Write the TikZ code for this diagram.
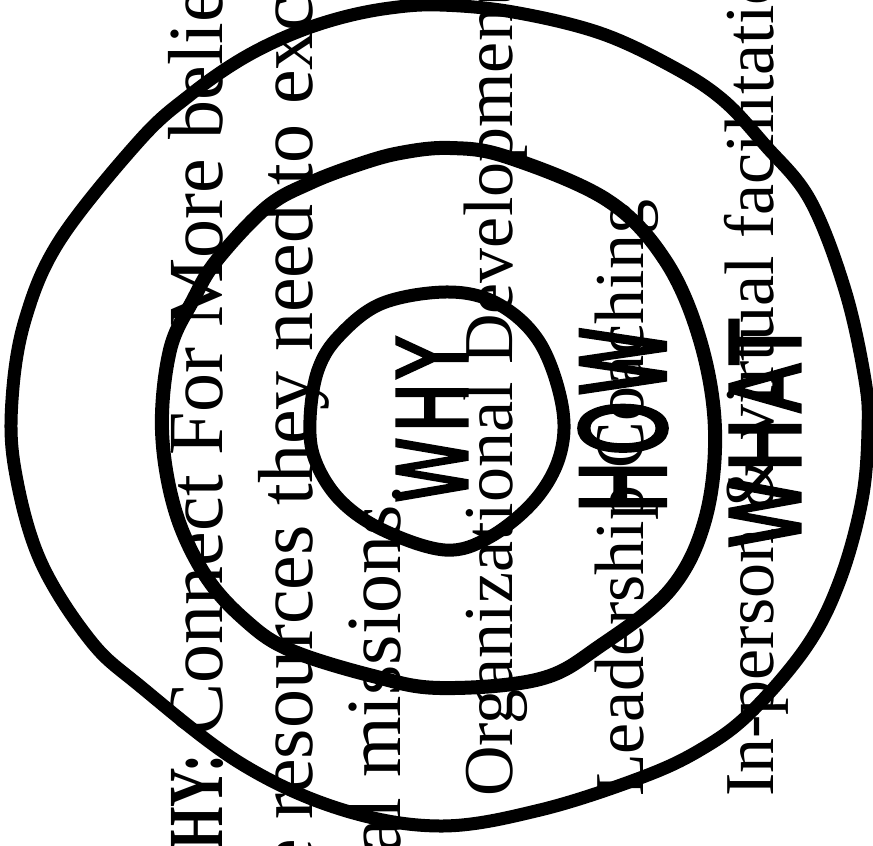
\documentclass[tikz,border=0pt]{standalone}
\usepackage{fontspec}
\usepackage{graphicx}
\setmainfont{Liberation Serif}
\newfontfamily\handfont[FakeBold=3.5,LetterSpace=8]{DejaVu Sans}
\tikzset{
  ring/.style={line width=13pt, line cap=round, line join=round},
  bigline/.style={rotate=90, anchor=base west, inner sep=0pt, font=\fontsize{78}{90}\selectfont},
  smallline/.style={rotate=90, anchor=base west, inner sep=0pt, font=\fontsize{70}{84}\selectfont},
  hand/.style={rotate=90, anchor=center, inner sep=0pt}
}
\begin{document}
\begin{tikzpicture}[x=1pt,y=-1pt]
\useasboundingbox (0,0) rectangle (873,846);
\fill[white] (0,0) rectangle (873,846);
\clip (0,0) rectangle (873,846);
% outer ring
\draw[ring] plot[smooth cycle, tension=0.6] coordinates {
 (12,400) (25,320) (60,240) (140,140) (190,95) (240,60) (290,35) (340,18) (390,8) (440,5)
 (513,12) (600,33) (673,67) (723,100) (765,145) (810,200) (845,290) (865,380) (868,430)
 (862,500) (840,580) (807,646) (750,713) (700,750) (640,778) (540,810) (440,826)
 (340,809) (240,763) (140,686) (90,640) (40,560) (15,470)};
% middle ring
\draw[ring, line width=14pt] plot[smooth cycle, tension=0.6] coordinates {
 (450,148) (507,157) (607,200) (665,260) (700,340) (715,430) (705,520) (670,590)
 (600,646) (540,679) (440,688) (373,676) (290,650) (245,620) (205,575) (175,510)
 (162,430) (170,350) (193,300) (217,260) (267,207) (310,183) (357,165) (400,153)};
% inner ring
\draw[ring] plot[smooth cycle, tension=0.6] coordinates {
 (310,420) (318,370) (340,335) (383,303) (450,292) (500,305) (540,343) (562,405)
 (560,455) (535,500) (490,537) (445,550) (383,530) (340,500) (315,460)};
% handwritten labels
\node[hand] (why) at (432,420) {\resizebox{165pt}{70pt}{\handfont WHY}};
\node[hand] (how) at (623,420) {\resizebox{186pt}{86pt}{\handfont HOW}};
\node[hand] (what) at (765,434) {\resizebox{228pt}{70pt}{\handfont WHAT}};
% serif text lines
\node[bigline] (l1) at (222,850) {{\bfseries\addfontfeature{FakeStretch=0.7}HY:} Connect For More belie};
\node[bigline] (l2) at (312,874) {e resources they need to exc};
\node[bigline] (l3) at (400,854) {al missions.};
\node[smallline] (l4) at (512,797) {Organizational Development};
\node[smallline] (l5) at (643,797) {Leadership Coaching};
\node[smallline] (l6) at (773,797) {In-person \& virtual facilitatio};
\end{tikzpicture}
\end{document}
